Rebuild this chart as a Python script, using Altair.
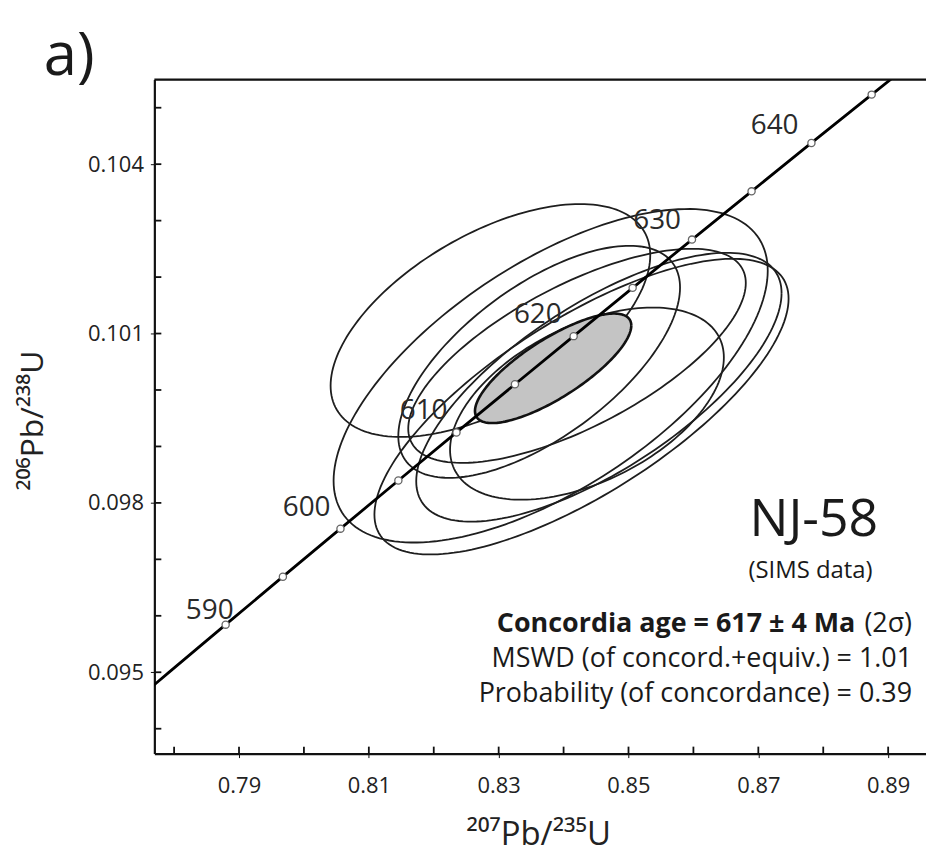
import altair as alt
import numpy as np
import pandas as pd

# ---------------- data ----------------
# Concordia curve points (age in Ma, 207Pb/235U, 206Pb/238U)
conc_age = [580, 585, 590, 595, 600, 605, 610, 615, 620, 625, 630, 635, 640, 645, 650]
conc_x = [0.77041, 0.77915, 0.78794, 0.79676, 0.80563, 0.81455, 0.82350, 0.83251,
          0.84155, 0.85064, 0.85978, 0.86896, 0.87818, 0.88746, 0.89677]
conc_y = [0.094144, 0.094993, 0.095843, 0.096693, 0.097544, 0.098396, 0.099248, 0.100101,
          0.100954, 0.101809, 0.102664, 0.103519, 0.104376, 0.105232, 0.106090]
marker_ages = [590, 595, 600, 605, 610, 615, 620, 625, 630, 635, 640, 645]
label_ages = [590, 600, 610, 620, 630, 640]

# Data-point error ellipses: centre, half-extent in x and y, correlation
ell_id = ["e1", "e2", "e3", "e4", "e5", "e6", "e7"]
ell_cx = [0.82873, 0.83801, 0.84276, 0.84360, 0.83624, 0.84207, 0.84544]
ell_cy = [0.101231, 0.100252, 0.099705, 0.099758, 0.100499, 0.100605, 0.100049]
ell_ex = [0.02462, 0.03344, 0.03190, 0.02109, 0.02170, 0.02600, 0.02814]
ell_ey = [0.002063, 0.002954, 0.002619, 0.001702, 0.002055, 0.001896, 0.002381]
ell_rho = [0.56, 0.63, 0.73, 0.48, 0.64, 0.68, 0.70]

# Concordia-age ellipse (shaded)
age_cx, age_cy, age_ex, age_ey, age_rho = 0.83839, 0.100384, 0.01204, 0.000970, 0.78

# Axis ticks
x_major = [0.79, 0.81, 0.83, 0.85, 0.87, 0.89]
x_minor = [0.78, 0.79, 0.80, 0.81, 0.82, 0.83, 0.84, 0.85, 0.86, 0.87, 0.88, 0.89]
y_major = [0.095, 0.098, 0.101, 0.104]
y_minor = [0.094, 0.095, 0.096, 0.097, 0.098, 0.099, 0.100, 0.101, 0.102, 0.103, 0.104, 0.105]

X_DOMAIN = [0.77696, 0.89583]
Y_DOMAIN = [0.093559, 0.105499]
W, H = 775, 677
FONT = "Open Sans"
INK = "#111111"

# ---------------- build tables ----------------
t = np.linspace(0, 2 * np.pi, 181)
rows = []
for i, eid in enumerate(ell_id):
    s = np.sqrt(1 - ell_rho[i] ** 2)
    xs = ell_cx[i] + ell_ex[i] * np.cos(t)
    ys = ell_cy[i] + ell_ey[i] * (ell_rho[i] * np.cos(t) + s * np.sin(t))
    for k, (a, b) in enumerate(zip(xs, ys)):
        rows.append({"id": eid, "k": k, "x": a, "y": b})
ell_df = pd.DataFrame(rows)

tt = np.linspace(0, np.pi, 91)
s0 = np.sqrt(1 - age_rho ** 2)
age_area = pd.DataFrame({
    "x": age_cx + age_ex * np.cos(tt),
    "y": age_cy + age_ey * (age_rho * np.cos(tt) + s0 * np.sin(tt)),
    "y2": age_cy + age_ey * (age_rho * np.cos(tt) - s0 * np.sin(tt)),
})
age_line = pd.DataFrame({
    "k": range(len(t)),
    "x": age_cx + age_ex * np.cos(t),
    "y": age_cy + age_ey * (age_rho * np.cos(t) + s0 * np.sin(t)),
})

conc_df = pd.DataFrame({"age": conc_age, "x": conc_x, "y": conc_y})
mark_df = conc_df[conc_df["age"].isin(marker_ages)]

xs = alt.Scale(domain=X_DOMAIN, nice=False, zero=False)
ys = alt.Scale(domain=Y_DOMAIN, nice=False, zero=False)

x_axis = alt.Axis(values=x_major, format=".2f", labelFont=FONT, labelFontSize=22,
                  labelColor="#222222", labelPadding=18, tickSize=4, tickColor=INK,
                  domainColor=INK, domainWidth=2.2, grid=False,
                  title="²⁰⁷Pb/²³⁵U", titleFont=FONT, titleFontSize=33,
                  titleFontWeight="normal", titleColor="#222222",
                  titleX=W / 2 - 2, titleY=81, titleBaseline="middle")
y_axis = alt.Axis(values=y_major, format=".3f", labelFont=FONT, labelFontSize=22,
                  labelColor="#222222", labelPadding=7, tickSize=4, tickColor=INK,
                  domainColor=INK, domainWidth=2.2, grid=False,
                  title="²⁰⁶Pb/²³⁸U", titleFont=FONT, titleFontSize=32,
                  titleFontWeight="normal", titleColor="#222222",
                  titleX=-122, titleY=342, titleAngle=270, titleBaseline="middle")

base_x = alt.X("x:Q", scale=xs, axis=x_axis)
base_y = alt.Y("y:Q", scale=ys, axis=y_axis)

ellipses = alt.Chart(ell_df).mark_line(color="#1e1e1e", strokeWidth=1.8).encode(
    x=base_x, y=base_y, detail="id:N", order="k:Q")

age_fill = alt.Chart(age_area).mark_area(color="#c4c4c4", opacity=1).encode(
    x=alt.X("x:Q", scale=xs), y=alt.Y("y:Q", scale=ys), y2="y2:Q")
age_outline = alt.Chart(age_line).mark_line(color="#111111", strokeWidth=2.6).encode(
    x=alt.X("x:Q", scale=xs), y=alt.Y("y:Q", scale=ys), order="k:Q")

conc_line = alt.Chart(conc_df).mark_line(color="#000000", strokeWidth=2.8, clip=True).encode(
    x=alt.X("x:Q", scale=xs), y=alt.Y("y:Q", scale=ys), order="age:Q")
conc_marks = alt.Chart(mark_df).mark_point(
    shape="circle", filled=True, fill="white", stroke="#666666", strokeWidth=1.3,
    size=52, opacity=1).encode(x=alt.X("x:Q", scale=xs), y=alt.Y("y:Q", scale=ys))

label_offsets = {590: (-16, -14), 600: (-34, -21), 610: (-33, -22),
                 620: (-36, -21), 630: (-35, -19), 640: (-37, -17)}
age_labels = []
for a in label_ages:
    dx, dy = label_offsets[a]
    age_labels.append(
        alt.Chart(conc_df[conc_df["age"] == a]).mark_text(
            font=FONT, fontSize=28, color="#2a2a2a", dx=dx, dy=dy, baseline="middle"
        ).encode(x=alt.X("x:Q", scale=xs), y=alt.Y("y:Q", scale=ys), text="age:N"))

# ticks drawn inward
x_ticks = alt.Chart(pd.DataFrame({"x": x_minor})).mark_rule(color=INK, strokeWidth=1.8).encode(
    x=alt.X("x:Q", scale=xs), y=alt.value(H), y2=alt.value(H - 7))
y_ticks = alt.Chart(pd.DataFrame({"y": y_minor})).mark_rule(color=INK, strokeWidth=1.8).encode(
    y=alt.Y("y:Q", scale=ys), x=alt.value(0), x2=alt.value(7))
top_border = alt.Chart(pd.DataFrame({"v": [0]})).mark_rule(color=INK, strokeWidth=2.2).encode(
    x=alt.value(0), x2=alt.value(W + 10), y=alt.value(0))

one = pd.DataFrame({"v": [0]})

def txt(s, x, y, size, align="right", weight="normal", baseline="middle"):
    return alt.Chart(one).mark_text(
        text=s, font=FONT, fontSize=size, fontWeight=weight, color="#1a1a1a",
        align=align, baseline=baseline).encode(x=alt.value(x), y=alt.value(y))

texts = [
    txt("a)", -111, -5, 60, align="left", baseline="alphabetic"),
    txt("NJ-58", 727, 442, 52),
    txt("(SIMS data)", 659, 494, 24, align="center"),
    txt("Concordia age = 617 ± 4 Ma", 704, 547, 27, weight="bold"),
    txt("(2σ)", 761, 547, 27),
    txt("MSWD (of concord.+equiv.) = 1.01", 761, 582, 27),
    txt("Probability (of concordance) = 0.39", 761, 617, 27),
]

chart = alt.layer(
    ellipses, age_fill, age_outline, conc_line, conc_marks,
    *age_labels, x_ticks, y_ticks, top_border, *texts
).properties(
    width=W, height=H,
    autosize=alt.AutoSizeParams(type="none"),
    padding={"left": 147, "top": 70, "right": 0, "bottom": 106},
).configure_view(stroke=None).configure(background="white")

chart.save("out.html", embed_options={"renderer": "svg", "actions": False})
